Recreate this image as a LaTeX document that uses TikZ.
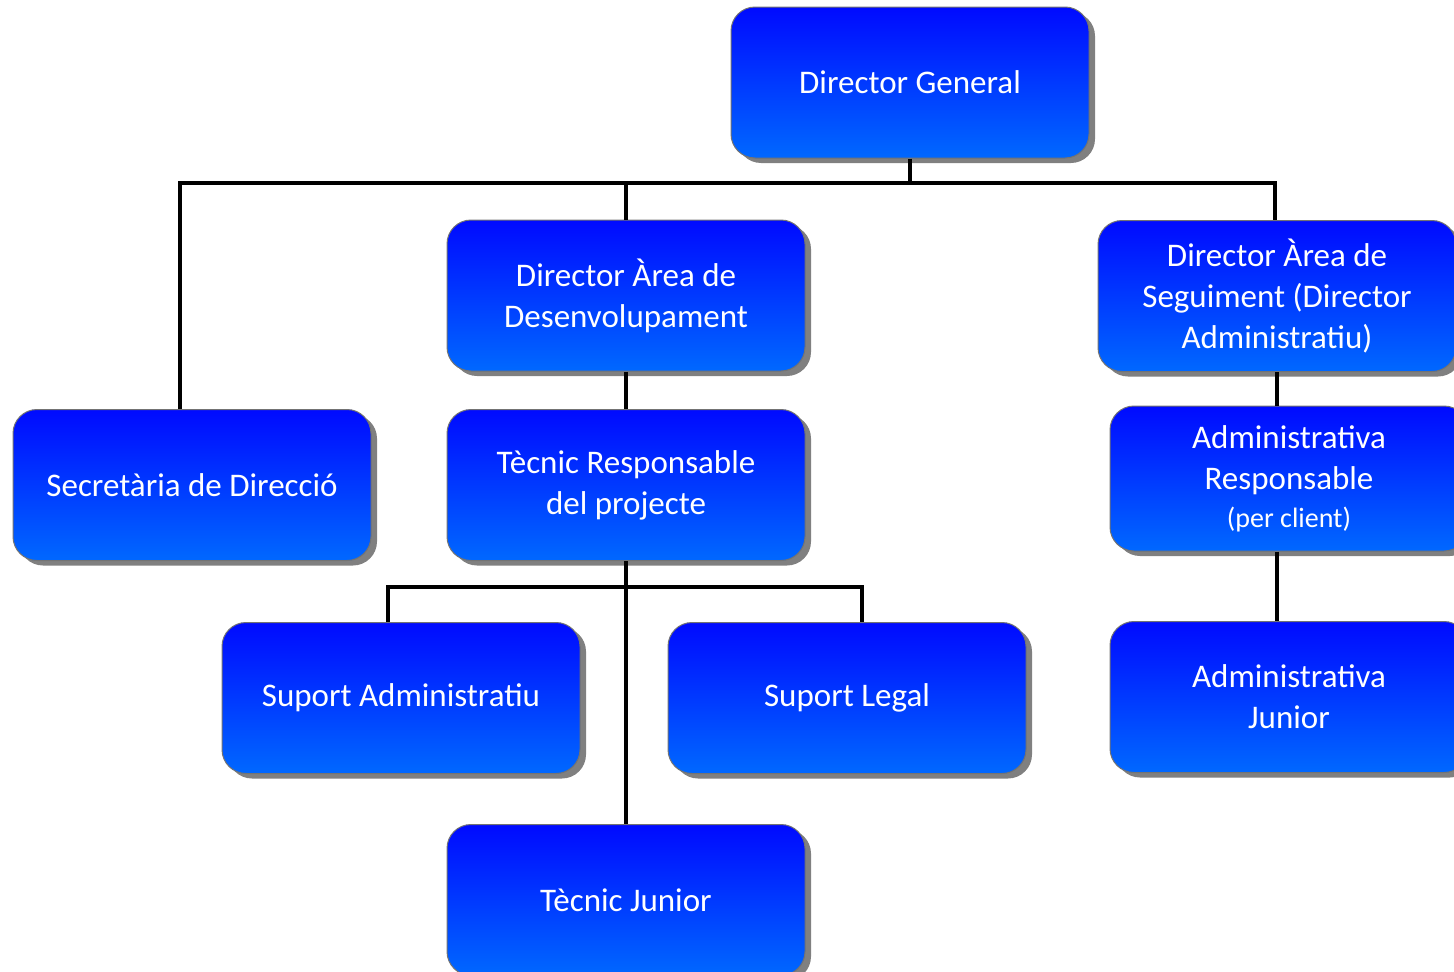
\documentclass[tikz,border=0pt]{standalone}
\usepackage{fontspec}
\setmainfont{Carlito}
\usetikzlibrary{shadows}
\definecolor{boxtop}{RGB}{0,10,255}
\definecolor{boxbot}{RGB}{0,104,255}
\definecolor{shadowgray}{RGB}{128,128,128}
\begin{document}
\begin{tikzpicture}[x=1pt, y=-1pt,
		box/.style={rectangle, rounded corners=24pt, draw=black!55, line width=1pt,
			top color=boxtop, bottom color=boxbot, text=white, align=center,
			minimum width=358pt, minimum height=151pt, inner sep=0pt,
			font=\fontsize{33}{41}\selectfont,
			drop shadow={shadow xshift=6pt, shadow yshift=-5pt, fill=shadowgray, opacity=1}},
		conn/.style={line width=4pt}]
		\useasboundingbox (0,0) rectangle (1454,972);
		\node[box] (dg) at (910,82.5) {Director General};
		\node[box] (sec) at (192,485) {Secretària de Direcció};
		\node[box] (dad) at (626,295.5) {Director Àrea de\\Desenvolupament};
		\node[box] (das) at (1277,296) {Director Àrea de\\Seguiment (Director\\Administratiu)};
		\node[box] (tr) at (626,485) {Tècnic Responsable\\del projecte};
		\node[box, minimum height=145pt] (ar) at (1289,478.5) {Administrativa\\Responsable\\[-3pt]{\fontsize{28}{34}\selectfont (per client)}};
		\node[box] (aj) at (1289,697) {Administrativa\\Junior};
		\node[box] (sa) at (401,698) {Suport Administratiu};
		\node[box] (sl) at (847,698) {Suport Legal};
		\node[box] (tj) at (626,900) {Tècnic Junior};
		
		\coordinate (busL) at (180,183);
		\coordinate (busR) at (1275,183);
		\coordinate (bus2L) at (388,587);
		\coordinate (bus2R) at (862,587);
		
		\draw[conn] (dg.south) -- (dg.south |- busL);
		\draw[conn] (busL |- sec.north) -- (busL) -- (busR) -- (busR |- das.north);
		\draw[conn] (dad.north) -- (dad.north |- busL);
		\draw[conn] (dad) -- (tr);
		\draw[conn] (tr) -- (tj);
		\draw[conn] (bus2L |- sa.north) -- (bus2L) -- (bus2R) -- (bus2R |- sl.north);
		\draw[conn] (das) -- (das |- ar.north);
		\draw[conn] (das |- ar.south) -- (das |- aj.north);
	\end{tikzpicture}
\end{document}
